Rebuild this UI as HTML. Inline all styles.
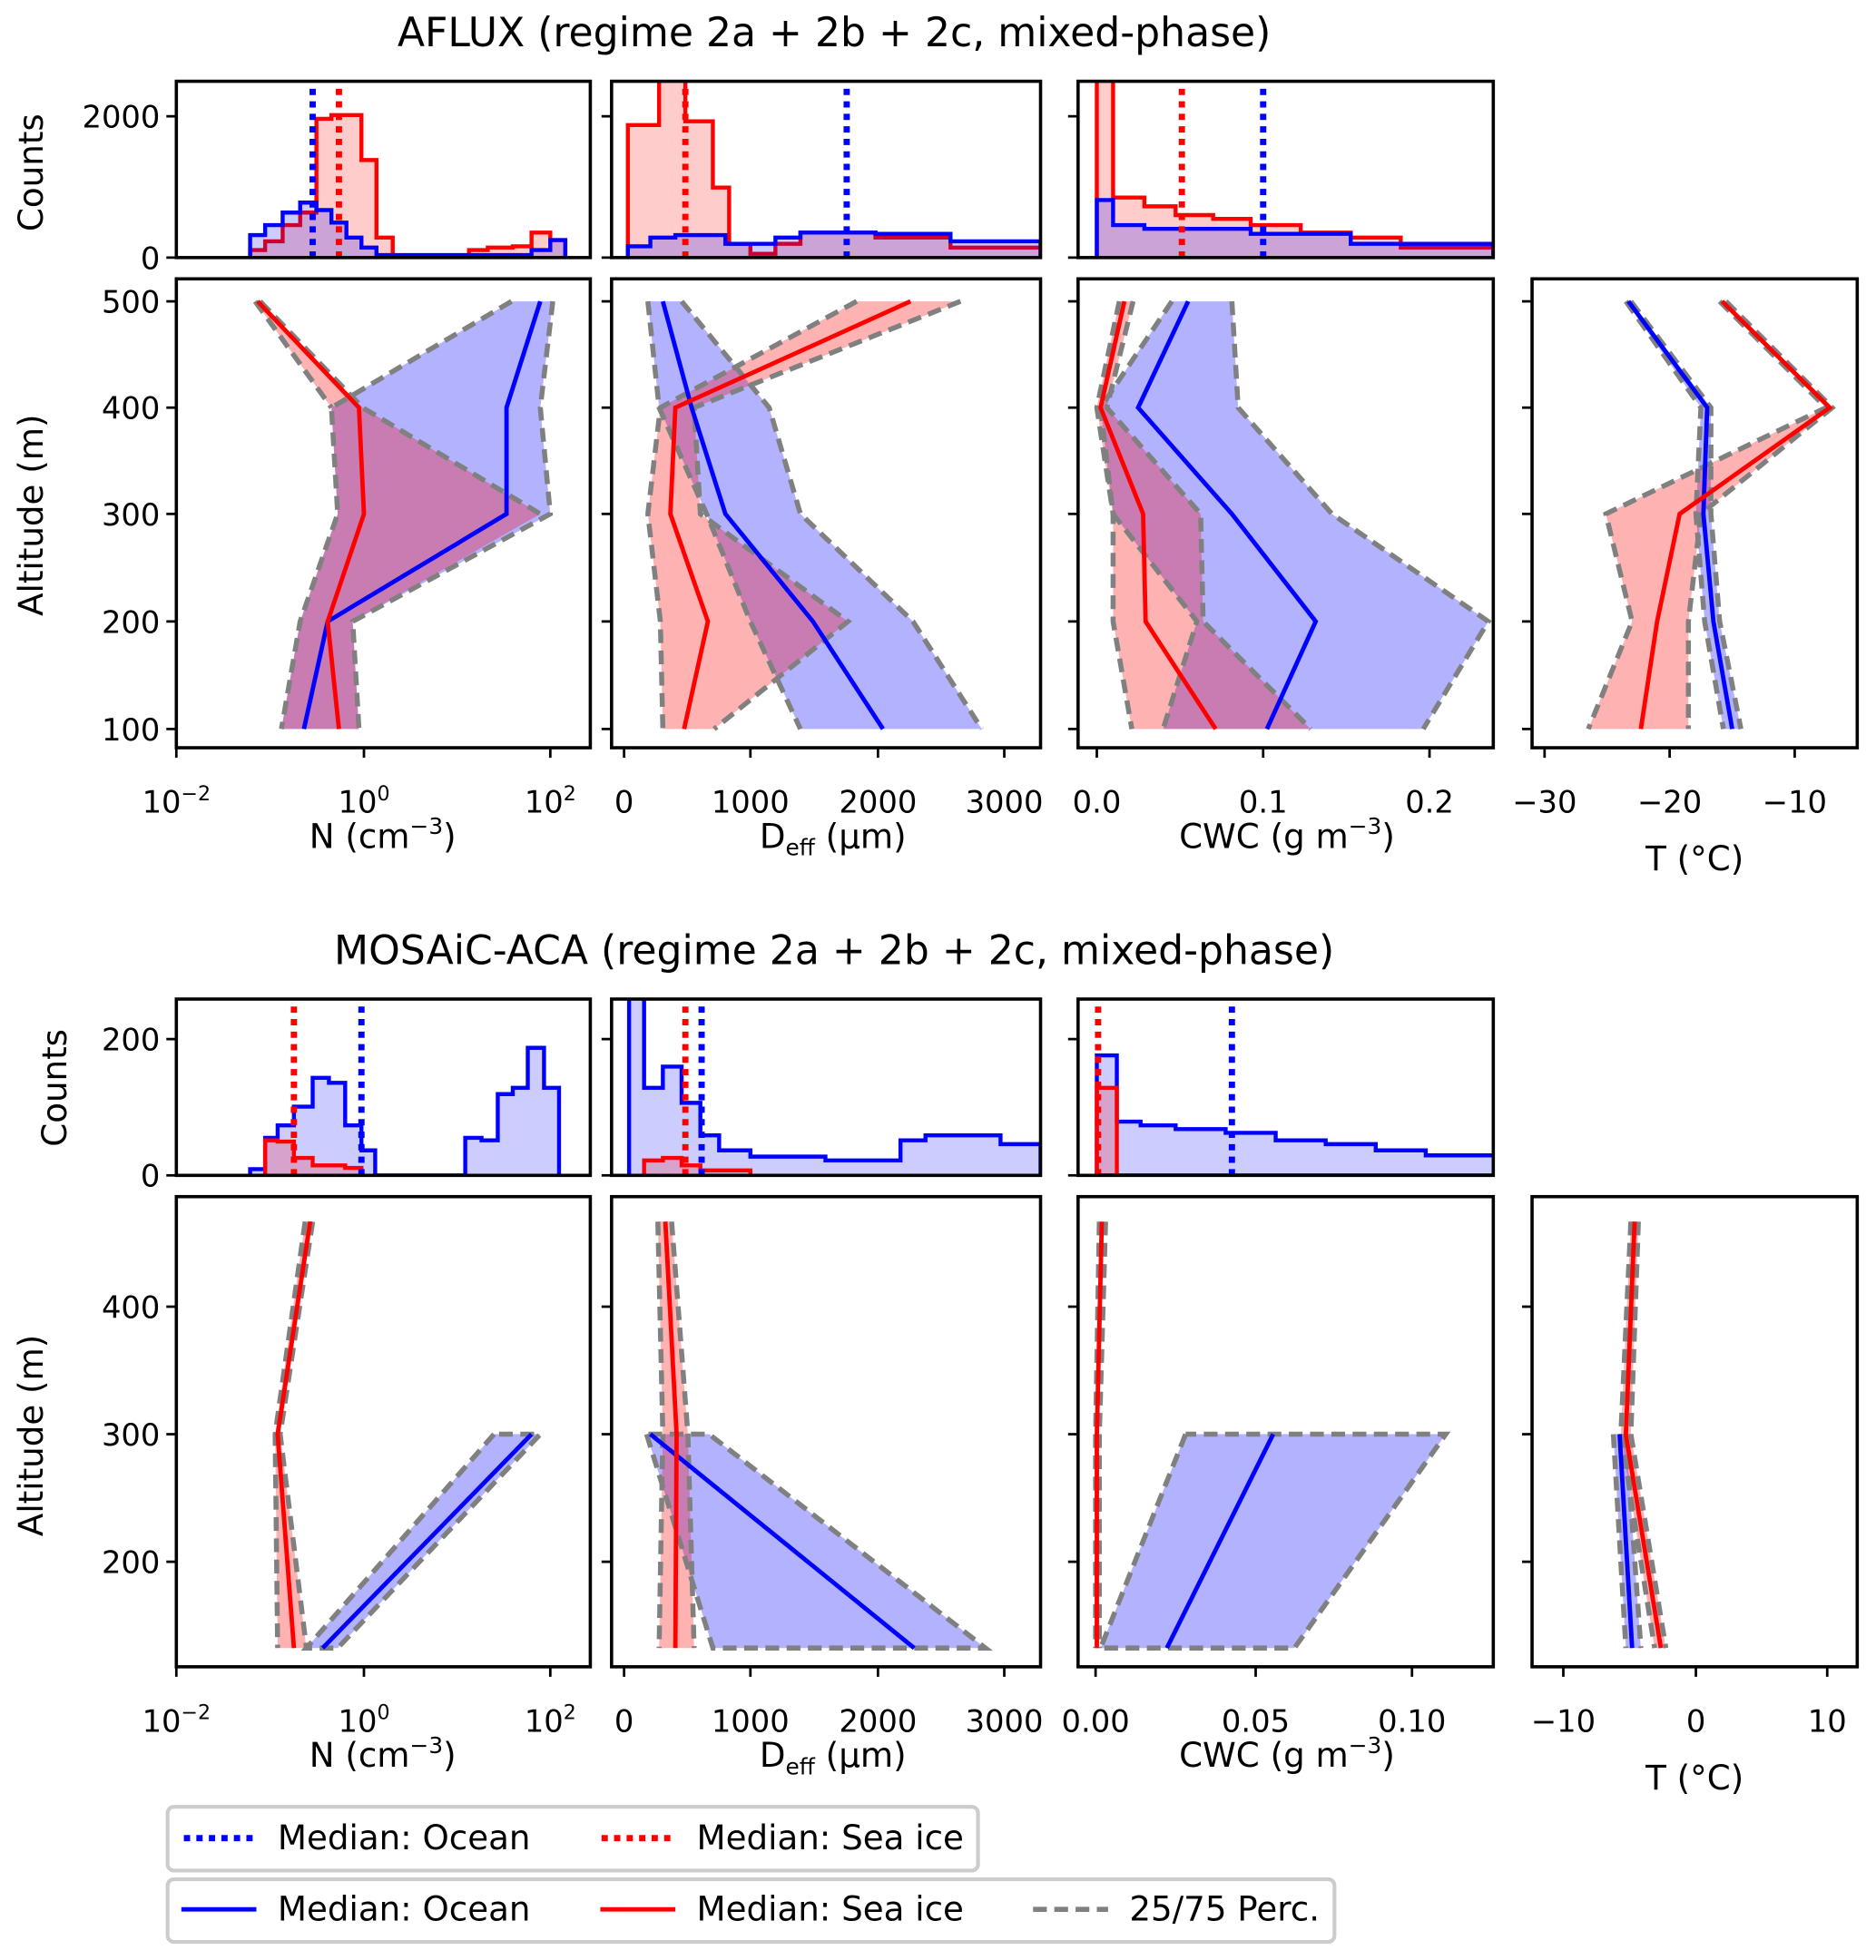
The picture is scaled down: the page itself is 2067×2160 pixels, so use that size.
<!DOCTYPE html>
<html><head><meta charset="utf-8"><style>
html,body{margin:0;padding:0;background:#fff}
svg{display:block}
text{font-family:"DejaVu Sans","Liberation Sans",sans-serif;fill:#000}
.t{font-size:24.5px}
.l{font-size:27px}
.ti{font-size:32px}
.lg{font-size:27px}
.ax{fill:none;stroke:#000;stroke-width:2.6}
.tk{stroke:#000;stroke-width:2}
.bb{fill:rgba(0,0,255,0.3);stroke:none}
.rb{fill:rgba(255,0,0,0.3);stroke:none}
.ge{fill:none;stroke:#808080;stroke-width:4;stroke-dasharray:11,6}
.bm{fill:none;stroke:#0000ff;stroke-width:3.5}
.rm{fill:none;stroke:#ff0000;stroke-width:3.5}
.bh{fill:rgba(0,0,255,0.2);stroke:#0000ff;stroke-width:3.2}
.rh{fill:rgba(255,0,0,0.2);stroke:#ff0000;stroke-width:3.2}
.bd{stroke:#0000ff;stroke-width:5;stroke-dasharray:5,5}
.rd{stroke:#ff0000;stroke-width:5;stroke-dasharray:5,5}
</style></head><body>
<svg width="2067" height="2160" viewBox="0 0 1500 1567.5" xmlns="http://www.w3.org/2000/svg">
<defs>
<clipPath id="c1"><rect x="141" y="65" width="331" height="141"/></clipPath>
<clipPath id="c2"><rect x="489" y="65" width="343" height="141"/></clipPath>
<clipPath id="c3"><rect x="862" y="65" width="332" height="141"/></clipPath>
<clipPath id="d1"><rect x="141" y="799" width="331" height="141"/></clipPath>
<clipPath id="d2"><rect x="489" y="799" width="343" height="141"/></clipPath>
<clipPath id="d3"><rect x="862" y="799" width="332" height="141"/></clipPath>
</defs>

<!-- ===== TOP ===== -->
<text class="ti" x="667" y="37" text-anchor="middle">AFLUX (regime 2a + 2b + 2c, mixed-phase)</text>

<g clip-path="url(#c1)">
<path class="rh" d="M200 206 V200 H212 V193 H226 V180 H240 V170 H253 V95 H265 V92 H289 V128 H301 V190 H314 V205 H375 V200 H390 V198 H410 V197 H425 V186 H440 V192 H452 V206"/>
<path class="bh" d="M200 206 V188 H212 V180 H226 V170 H240 V162 H253 V168 H265 V178 H277 V190 H289 V198 H301 V204 H375 V204 H425 V200 H440 V192 H452 V206"/>
<line class="bd" x1="250" y1="206" x2="250" y2="70"/>
<line class="rd" x1="271" y1="206" x2="271" y2="70"/>
</g>
<rect class="ax" x="141" y="65" width="331" height="141"/>
<g clip-path="url(#c2)">
<path class="rh" d="M502 206 V100 H527 V62 H548 V97 H570 V150 H583 V195 H600 V203 H620 V195 H640 V186 H700 V190 H760 V198 H832 V206"/>
<path class="bh" d="M502 206 V197 H520 V190 H540 V188 H580 V195 H620 V190 H640 V186 H700 V187 H760 V193 H832 V206"/>
<line class="bd" x1="677" y1="206" x2="677" y2="70"/>
<line class="rd" x1="548" y1="206" x2="548" y2="70"/>
</g>
<rect class="ax" x="489" y="65" width="343" height="141"/>
<g clip-path="url(#c3)">
<path class="rh" d="M877 206 V62 H890 V158 H915 V165 H940 V172 H970 V175 H1000 V180 H1040 V186 H1080 V190 H1120 V198 H1194 V206"/>
<path class="bh" d="M877 206 V160 H890 V180 H915 V183 H1000 V187 H1080 V195 H1194 V206"/>
<line class="bd" x1="1010" y1="206" x2="1010" y2="70"/>
<line class="rd" x1="945" y1="206" x2="945" y2="70"/>
</g>
<rect class="ax" x="862" y="65" width="332" height="141"/>
<g class="tk">
<line x1="133" y1="93" x2="141" y2="93"/><line x1="133" y1="206" x2="141" y2="206"/>
<line x1="481" y1="93" x2="489" y2="93"/><line x1="481" y1="206" x2="489" y2="206"/>
<line x1="854" y1="93" x2="862" y2="93"/><line x1="854" y1="206" x2="862" y2="206"/>
</g>
<text class="t" x="128" y="102" text-anchor="end">2000</text>
<text class="t" x="128" y="215" text-anchor="end">0</text>
<text class="l" transform="translate(34,138) rotate(-90)" text-anchor="middle">Counts</text>

<polygon class="bb" points="409,241 265,326 270,411 240,497 225,583 287,583 282,497 440,411 432,326 442,241"/>
<polygon class="rb" points="204,241 265,326 270,411 240,497 225,583 287,583 282,497 432,411 290,326 208,241"/>
<polyline class="ge" points="409,241 265,326 270,411 240,497 225,583"/>
<polyline class="ge" points="442,241 432,326 440,411 282,497 287,583"/>
<polyline class="ge" points="204,241 265,326"/>
<polyline class="ge" points="208,241 290,326 432,411"/>
<polyline class="bm" points="432,241 405,326 405,411 262,497 243,583"/>
<polyline class="rm" points="206,241 287,326 291,411 262,497 271,583"/>
<rect class="ax" x="141" y="223" width="331" height="375"/>
<polygon class="bb" points="518,241 527,326 565,411 600,497 640,583 785,583 730,497 640,411 615,326 545,241"/>
<polygon class="rb" points="685,241 528,326 518,411 528,497 530,583 571,583 678,497 560,411 555,326 768,241"/>
<polyline class="ge" points="518,241 527,326 565,411 600,497 640,583"/>
<polyline class="ge" points="545,241 615,326 640,411 730,497 785,583"/>
<polyline class="ge" points="685,241 528,326 518,411 528,497 530,583"/>
<polyline class="ge" points="768,241 555,326 560,411 678,497 571,583"/>
<polyline class="bm" points="530,241 553,326 580,411 650,497 706,583"/>
<polyline class="rm" points="728,241 540,326 536,411 566,497 547,583"/>
<rect class="ax" x="489" y="223" width="343" height="375"/>
<polygon class="bb" points="937,241 880,326 890,411 957,497 930,583 1138,583 1190,497 1065,411 990,326 985,241"/>
<polygon class="rb" points="895,241 877,326 890,411 890,497 905,583 1048,583 962,497 960,411 885,326 906,241"/>
<polyline class="ge" points="937,241 880,326 890,411 957,497 930,583"/>
<polyline class="ge" points="985,241 990,326 1065,411 1190,497 1138,583"/>
<polyline class="ge" points="895,241 877,326 890,411 890,497 905,583"/>
<polyline class="ge" points="906,241 885,326 960,411 962,497 1048,583"/>
<polyline class="bm" points="950,241 910,326 985,411 1052,497 1013,583"/>
<polyline class="rm" points="899,241 880,326 914,411 916,497 972,583"/>
<rect class="ax" x="862" y="223" width="332" height="375"/>
<polygon class="bb" points="1300,241 1360,326 1356,411 1363,497 1378,583 1392,583 1375,497 1368,411 1368,326 1304,241"/>
<polygon class="rb" points="1375,241 1460,326 1284,411 1305,497 1270,583 1350,583 1350,497 1360,411 1465,326 1380,241"/>
<polyline class="ge" points="1300,241 1360,326 1356,411 1363,497 1378,583"/>
<polyline class="ge" points="1304,241 1368,326 1368,411 1375,497 1392,583"/>
<polyline class="ge" points="1375,241 1460,326 1284,411 1305,497 1270,583"/>
<polyline class="ge" points="1380,241 1465,326 1360,411 1350,497 1350,583"/>
<polyline class="bm" points="1302,241 1365,326 1362,411 1370,497 1385,583"/>
<polyline class="rm" points="1377,241 1463,326 1343,411 1325,497 1312,583"/>
<rect class="ax" x="1225" y="223" width="260" height="375"/>
<g class="tk">
<line x1="133" y1="241" x2="141" y2="241"/><line x1="133" y1="326" x2="141" y2="326"/><line x1="133" y1="411" x2="141" y2="411"/><line x1="133" y1="497" x2="141" y2="497"/><line x1="133" y1="583" x2="141" y2="583"/>
<line x1="481" y1="241" x2="489" y2="241"/><line x1="481" y1="326" x2="489" y2="326"/><line x1="481" y1="411" x2="489" y2="411"/><line x1="481" y1="497" x2="489" y2="497"/><line x1="481" y1="583" x2="489" y2="583"/>
<line x1="854" y1="241" x2="862" y2="241"/><line x1="854" y1="326" x2="862" y2="326"/><line x1="854" y1="411" x2="862" y2="411"/><line x1="854" y1="497" x2="862" y2="497"/><line x1="854" y1="583" x2="862" y2="583"/>
<line x1="1217" y1="241" x2="1225" y2="241"/><line x1="1217" y1="326" x2="1225" y2="326"/><line x1="1217" y1="411" x2="1225" y2="411"/><line x1="1217" y1="497" x2="1225" y2="497"/><line x1="1217" y1="583" x2="1225" y2="583"/>
<line x1="141" y1="598" x2="141" y2="606"/><line x1="291" y1="598" x2="291" y2="606"/><line x1="440" y1="598" x2="440" y2="606"/>
<line x1="499" y1="598" x2="499" y2="606"/><line x1="600" y1="598" x2="600" y2="606"/><line x1="702" y1="598" x2="702" y2="606"/><line x1="803" y1="598" x2="803" y2="606"/>
<line x1="877" y1="598" x2="877" y2="606"/><line x1="1010" y1="598" x2="1010" y2="606"/><line x1="1143" y1="598" x2="1143" y2="606"/>
<line x1="1235" y1="598" x2="1235" y2="606"/><line x1="1335" y1="598" x2="1335" y2="606"/><line x1="1435" y1="598" x2="1435" y2="606"/>
</g>
<text class="t" x="128" y="250" text-anchor="end">500</text>
<text class="t" x="128" y="335" text-anchor="end">400</text>
<text class="t" x="128" y="420" text-anchor="end">300</text>
<text class="t" x="128" y="506" text-anchor="end">200</text>
<text class="t" x="128" y="592" text-anchor="end">100</text>
<text class="l" transform="translate(34,412) rotate(-90)" text-anchor="middle">Altitude (m)</text>
<text class="t" x="141" y="650" text-anchor="middle">10<tspan font-size="16" dy="-10">−2</tspan></text>
<text class="t" x="291" y="650" text-anchor="middle">10<tspan font-size="16" dy="-10">0</tspan></text>
<text class="t" x="440" y="650" text-anchor="middle">10<tspan font-size="16" dy="-10">2</tspan></text>
<text class="t" x="499" y="650" text-anchor="middle">0</text>
<text class="t" x="600" y="650" text-anchor="middle">1000</text>
<text class="t" x="702" y="650" text-anchor="middle">2000</text>
<text class="t" x="803" y="650" text-anchor="middle">3000</text>
<text class="t" x="877" y="650" text-anchor="middle">0.0</text>
<text class="t" x="1010" y="650" text-anchor="middle">0.1</text>
<text class="t" x="1143" y="650" text-anchor="middle">0.2</text>
<text class="t" x="1235" y="650" text-anchor="middle">−30</text>
<text class="t" x="1335" y="650" text-anchor="middle">−20</text>
<text class="t" x="1435" y="650" text-anchor="middle">−10</text>
<text class="l" x="306" y="678" text-anchor="middle">N (cm<tspan font-size="18" dy="-11">−3</tspan><tspan dy="11">)</tspan></text>
<text class="l" x="666" y="678" text-anchor="middle">D<tspan font-size="18" dy="6">eff</tspan><tspan dy="-6"> (µm)</tspan></text>
<text class="l" x="1029" y="678" text-anchor="middle">CWC (g m<tspan font-size="18" dy="-11">−3</tspan><tspan dy="11">)</tspan></text>
<text class="l" x="1355" y="696" text-anchor="middle">T (°C)</text>

<!-- ===== BOTTOM ===== -->
<text class="ti" x="667" y="771" text-anchor="middle">MOSAiC-ACA (regime 2a + 2b + 2c, mixed-phase)</text>

<g clip-path="url(#d1)">
<path class="bh" d="M200 940 V935 H212 V910 H222 V900 H235 V885 H250 V862 H263 V866 H276 V900 H289 V920 H300 V940 H372 V910 H385 V912 H398 V875 H410 V870 H422 V838 H435 V870 H447 V940"/>
<path class="rh" d="M212 940 V912 H222 V913 H235 V926 H250 V932 H276 V934 H289 V940"/>
<line class="bd" x1="289" y1="940" x2="289" y2="802"/>
<line class="rd" x1="235" y1="940" x2="235" y2="802"/>
</g>
<rect class="ax" x="141" y="799" width="331" height="141"/>
<g clip-path="url(#d2)">
<path class="bh" d="M503 940 V796 H515 V870 H530 V853 H545 V882 H560 V908 H575 V920 H600 V925 H660 V928 H720 V912 H740 V908 H800 V915 H832 V940"/>
<path class="rh" d="M515 940 V928 H530 V926 H545 V932 H560 V936 H600 V940"/>
<line class="bd" x1="561" y1="940" x2="561" y2="802"/>
<line class="rd" x1="548" y1="940" x2="548" y2="802"/>
</g>
<rect class="ax" x="489" y="799" width="343" height="141"/>
<g clip-path="url(#d3)">
<path class="bh" d="M877 940 V844 H893 V897 H912 V900 H940 V903 H980 V906 H1020 V912 H1060 V915 H1100 V920 H1140 V924 H1196 V940 Z"/>
<path class="rh" d="M877 940 V870 H893 V940"/>
<line class="bd" x1="985" y1="940" x2="985" y2="802"/>
<line class="rd" x1="878" y1="940" x2="878" y2="802"/>
</g>
<rect class="ax" x="862" y="799" width="332" height="141"/>
<g class="tk">
<line x1="133" y1="831" x2="141" y2="831"/><line x1="133" y1="940" x2="141" y2="940"/>
<line x1="481" y1="831" x2="489" y2="831"/><line x1="481" y1="940" x2="489" y2="940"/>
<line x1="854" y1="831" x2="862" y2="831"/><line x1="854" y1="940" x2="862" y2="940"/>
</g>
<text class="t" x="128" y="840" text-anchor="end">200</text>
<text class="t" x="128" y="949" text-anchor="end">0</text>
<text class="l" transform="translate(53,870) rotate(-90)" text-anchor="middle">Counts</text>

<polygon class="rb" points="244,977 220,1147 222,1318 245,1318 224,1147 250,977"/>
<polygon class="bb" points="395,1147 245,1318 270,1318 432,1147"/>
<polyline class="ge" points="244,977 220,1147 222,1318"/>
<polyline class="ge" points="250,977 224,1147 245,1318"/>
<polyline class="ge" points="395,1147 245,1318 270,1318 432,1147 395,1147"/>
<polyline class="bm" points="425,1147 258,1318"/>
<polyline class="rm" points="248,977 222,1147 235,1318"/>
<rect class="ax" x="141" y="957" width="331" height="376"/>
<polygon class="bb" points="517,1147 570,1318 788,1318 567,1147"/>
<polygon class="rb" points="526,977 530,1147 527,1318 555,1318 550,1147 537,977"/>
<polyline class="ge" points="517,1147 570,1318 788,1318 567,1147 517,1147"/>
<polyline class="ge" points="526,977 530,1147 527,1318"/>
<polyline class="ge" points="537,977 550,1147 555,1318"/>
<polyline class="bm" points="520,1147 731,1318"/>
<polyline class="rm" points="532,977 541,1147 540,1318"/>
<rect class="ax" x="489" y="957" width="343" height="376"/>
<polygon class="bb" points="948,1147 880,1318 1035,1318 1156,1147"/>
<polyline class="ge" points="948,1147 880,1318 1035,1318 1156,1147 948,1147"/>
<polyline class="ge" points="879,977 876,1147 876,1318"/>
<polyline class="ge" points="884,977 879,1147 879,1318"/>
<polyline class="bm" points="1018,1147 933,1318"/>
<polyline class="rm" points="881,977 877,1147 877,1318"/>
<rect class="ax" x="862" y="957" width="332" height="376"/>
<polygon class="bb" points="1290,1147 1300,1318 1312,1318 1300,1147"/>
<polygon class="rb" points="1304,977 1296,1147 1323,1318 1332,1318 1304,1147 1310,977"/>
<polyline class="ge" points="1290,1147 1300,1318"/>
<polyline class="ge" points="1300,1147 1312,1318"/>
<polyline class="ge" points="1304,977 1296,1147 1323,1318"/>
<polyline class="ge" points="1310,977 1304,1147 1332,1318"/>
<polyline class="bm" points="1295,1147 1305,1318"/>
<polyline class="rm" points="1307,977 1300,1147 1328,1318"/>
<rect class="ax" x="1225" y="957" width="260" height="376"/>
<g class="tk">
<line x1="133" y1="1045" x2="141" y2="1045"/><line x1="133" y1="1147" x2="141" y2="1147"/><line x1="133" y1="1249" x2="141" y2="1249"/>
<line x1="481" y1="1045" x2="489" y2="1045"/><line x1="481" y1="1147" x2="489" y2="1147"/><line x1="481" y1="1249" x2="489" y2="1249"/>
<line x1="854" y1="1045" x2="862" y2="1045"/><line x1="854" y1="1147" x2="862" y2="1147"/><line x1="854" y1="1249" x2="862" y2="1249"/>
<line x1="1217" y1="1045" x2="1225" y2="1045"/><line x1="1217" y1="1147" x2="1225" y2="1147"/><line x1="1217" y1="1249" x2="1225" y2="1249"/>
<line x1="141" y1="1333" x2="141" y2="1341"/><line x1="291" y1="1333" x2="291" y2="1341"/><line x1="440" y1="1333" x2="440" y2="1341"/>
<line x1="499" y1="1333" x2="499" y2="1341"/><line x1="600" y1="1333" x2="600" y2="1341"/><line x1="702" y1="1333" x2="702" y2="1341"/><line x1="803" y1="1333" x2="803" y2="1341"/>
<line x1="876" y1="1333" x2="876" y2="1341"/><line x1="1004" y1="1333" x2="1004" y2="1341"/><line x1="1129" y1="1333" x2="1129" y2="1341"/>
<line x1="1250" y1="1333" x2="1250" y2="1341"/><line x1="1356" y1="1333" x2="1356" y2="1341"/><line x1="1461" y1="1333" x2="1461" y2="1341"/>
</g>
<text class="t" x="128" y="1054" text-anchor="end">400</text>
<text class="t" x="128" y="1156" text-anchor="end">300</text>
<text class="t" x="128" y="1258" text-anchor="end">200</text>
<text class="l" transform="translate(34,1148) rotate(-90)" text-anchor="middle">Altitude (m)</text>
<text class="t" x="141" y="1385" text-anchor="middle">10<tspan font-size="16" dy="-10">−2</tspan></text>
<text class="t" x="291" y="1385" text-anchor="middle">10<tspan font-size="16" dy="-10">0</tspan></text>
<text class="t" x="440" y="1385" text-anchor="middle">10<tspan font-size="16" dy="-10">2</tspan></text>
<text class="t" x="499" y="1385" text-anchor="middle">0</text>
<text class="t" x="600" y="1385" text-anchor="middle">1000</text>
<text class="t" x="702" y="1385" text-anchor="middle">2000</text>
<text class="t" x="803" y="1385" text-anchor="middle">3000</text>
<text class="t" x="876" y="1385" text-anchor="middle">0.00</text>
<text class="t" x="1004" y="1385" text-anchor="middle">0.05</text>
<text class="t" x="1129" y="1385" text-anchor="middle">0.10</text>
<text class="t" x="1250" y="1385" text-anchor="middle">−10</text>
<text class="t" x="1356" y="1385" text-anchor="middle">0</text>
<text class="t" x="1461" y="1385" text-anchor="middle">10</text>
<text class="l" x="306" y="1413" text-anchor="middle">N (cm<tspan font-size="18" dy="-11">−3</tspan><tspan dy="11">)</tspan></text>
<text class="l" x="666" y="1413" text-anchor="middle">D<tspan font-size="18" dy="6">eff</tspan><tspan dy="-6"> (µm)</tspan></text>
<text class="l" x="1029" y="1413" text-anchor="middle">CWC (g m<tspan font-size="18" dy="-11">−3</tspan><tspan dy="11">)</tspan></text>
<text class="l" x="1355" y="1431" text-anchor="middle">T (°C)</text>

<rect x="134" y="1445" width="648" height="51" rx="5" fill="#fff" stroke="#ccc" stroke-width="3"/>
<line class="bd" x1="147" y1="1470" x2="205" y2="1470"/>
<text class="lg" x="222" y="1479">Median: Ocean</text>
<line class="rd" x1="481" y1="1470" x2="540" y2="1470"/>
<text class="lg" x="557" y="1479">Median: Sea ice</text>
<rect x="134" y="1503" width="933" height="50" rx="5" fill="#fff" stroke="#ccc" stroke-width="3"/>
<line class="bm" x1="145" y1="1527" x2="205" y2="1527"/>
<text class="lg" x="222" y="1536">Median: Ocean</text>
<line class="rm" x1="480" y1="1527" x2="540" y2="1527"/>
<text class="lg" x="557" y="1536">Median: Sea ice</text>
<line class="ge" x1="826" y1="1527" x2="886" y2="1527"/>
<text class="lg" x="903" y="1536">25/75 Perc.</text>
</svg>
</body></html>
